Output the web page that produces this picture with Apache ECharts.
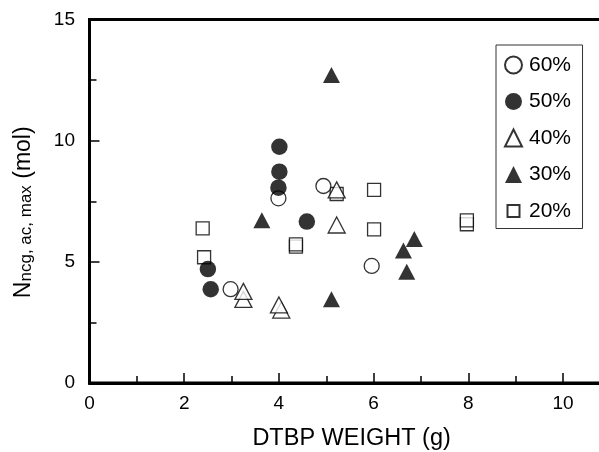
<!DOCTYPE html>
<html>
<head>
<meta charset="utf-8">
<script src="https://cdn.jsdelivr.net/npm/echarts@6/dist/echarts.min.js"></script>
<style>
  html, body { margin: 0; padding: 0; background: #fff; }
  #main { width: 599px; height: 452px; }
</style>
</head>
<body>
<div id="main"></div>
<script>
// series labels (TBA concentration)
var seriesNames = ['60%', '50%', '40%', '30%', '20%'];
// [DTBP weight (g), N (mol)]
var data60 = [[2.98, 3.87], [3.99, 7.62], [4.94, 8.13], [5.96, 4.83]];
var data50 = [[2.50, 4.70], [2.56, 3.87], [4.01, 9.75], [4.01, 8.72], [3.99, 8.06], [4.59, 6.66]];
var data40 = [[3.25, 3.45], [3.25, 3.78], [4.05, 3.01], [4.00, 3.22], [5.22, 7.97], [5.22, 6.52]];
var data30 = [[3.64, 6.72], [5.11, 12.71], [5.11, 3.46], [6.63, 5.47], [6.86, 5.94], [6.70, 4.59]];
var data20 = [[2.39, 6.38], [2.42, 5.19], [4.36, 5.63], [4.36, 5.72], [5.22, 7.80], [6.01, 7.97], [6.01, 6.34], [7.97, 6.55], [7.97, 6.71]];
var xTicks = [0, 2, 4, 6, 8, 10];
var yTicks = [0, 5, 10, 15];

var font = "'Liberation Sans', Arial, sans-serif";
var openStyle = { color: '#fff', borderColor: '#000', borderWidth: 1.3 };
var fillStyle = { color: '#000', borderColor: '#000', borderWidth: 0 };
var squareIcon = 'path://M0,0M17,17M2.5,2.5h12v12h-12z';

var myChart = echarts.init(document.getElementById('main'), null, { renderer: 'canvas' });

function scatter(name, data, symbol, size, style, z) {
    return {
        name: name,
        type: 'scatter',
        data: data,
        symbol: symbol,
        symbolSize: size,
        itemStyle: style,
        silent: true,
        z: z
    };
}

myChart.setOption({
    animation: false,
    backgroundColor: '#fff',
    textStyle: { fontFamily: font, color: '#000' },
    grid: {
        left: 89.5,
        top: 19.5,
        right: -58.7,
        bottom: 69,
        outerBoundsMode: 'none',
        containLabel: false,
        show: true,
        borderColor: '#000',
        borderWidth: 3
    },
    legend: {
        orient: 'vertical',
        left: 496,
        top: 45,
        padding: [9.5, 11.5, 7, 8],
        itemWidth: 17,
        itemHeight: 17,
        itemGap: 15.5,
        borderColor: '#333',
        borderWidth: 1,
        backgroundColor: '#fff',
        selectedMode: false,
        textStyle: { fontFamily: font, fontSize: 21, lineHeight: 21, color: '#000', padding: [0, 0, 0, 2] },
        data: [
            { name: seriesNames[0], icon: 'circle' },
            { name: seriesNames[1], icon: 'circle' },
            { name: seriesNames[2], icon: 'triangle' },
            { name: seriesNames[3], icon: 'triangle' },
            { name: seriesNames[4], icon: squareIcon }
        ]
    },
    xAxis: {
        type: 'value',
        min: 0,
        max: 12,
        interval: 2,
        name: 'DTBP WEIGHT (g)',
        nameLocation: 'middle',
        nameGap: 44.8,
        nameTextStyle: { fontFamily: font, fontSize: 23.5, lineHeight: 22, color: '#000', padding: [0, 44, 0, 0] },
        axisLine: { lineStyle: { color: '#000', width: 3 } },
        axisTick: { inside: true, length: 10, lineStyle: { color: '#000', width: 1.5 } },
        minorTick: { show: true, splitNumber: 2, length: 7, lineStyle: { color: '#000', width: 1.5 } },
        splitLine: { show: false },
        axisLabel: {
            fontFamily: font, fontSize: 19, color: '#000', margin: 11,
            formatter: function (v) { return xTicks.indexOf(v) >= 0 ? String(v) : ''; }
        }
    },
    yAxis: {
        type: 'value',
        min: 0,
        max: 15,
        interval: 5,
        name: '{n|N}{s|ncg, ac, max}{n| (mol)}',
        nameLocation: 'middle',
        nameRotate: 90,
        nameGap: 54.5,
        nameTextStyle: {
            fontFamily: font,
            color: '#000',
            padding: [0, 22, 0, 0],
            rich: {
                n: { fontFamily: font, fontSize: 23, lineHeight: 22, color: '#000' },
                s: { fontFamily: font, fontSize: 17, lineHeight: 15, verticalAlign: 'bottom', color: '#000' }
            }
        },
        axisLine: { lineStyle: { color: '#000', width: 3 } },
        axisTick: { inside: true, length: 10, lineStyle: { color: '#000', width: 1.5 } },
        minorTick: { show: true, splitNumber: 2, length: 7, lineStyle: { color: '#000', width: 1.5 } },
        splitLine: { show: false },
        axisLabel: {
            fontFamily: font, fontSize: 19, color: '#000', margin: 14.5,
            formatter: function (v) { return yTicks.indexOf(v) >= 0 ? String(v) : ''; }
        }
    },
    series: [
        scatter(seriesNames[4], data20, 'rect', 13, openStyle, 1),
        scatter(seriesNames[0], data60, 'circle', 15, openStyle, 2),
        scatter(seriesNames[1], data50, 'circle', 16.5, fillStyle, 2),
        scatter(seriesNames[2], data40, 'triangle', [17, 16], openStyle, 2),
        scatter(seriesNames[3], data30, 'triangle', [17, 16], fillStyle, 2)
    ]
});

window.addEventListener('resize', function () {
    myChart.resize();
});
</script>
</body>
</html>
